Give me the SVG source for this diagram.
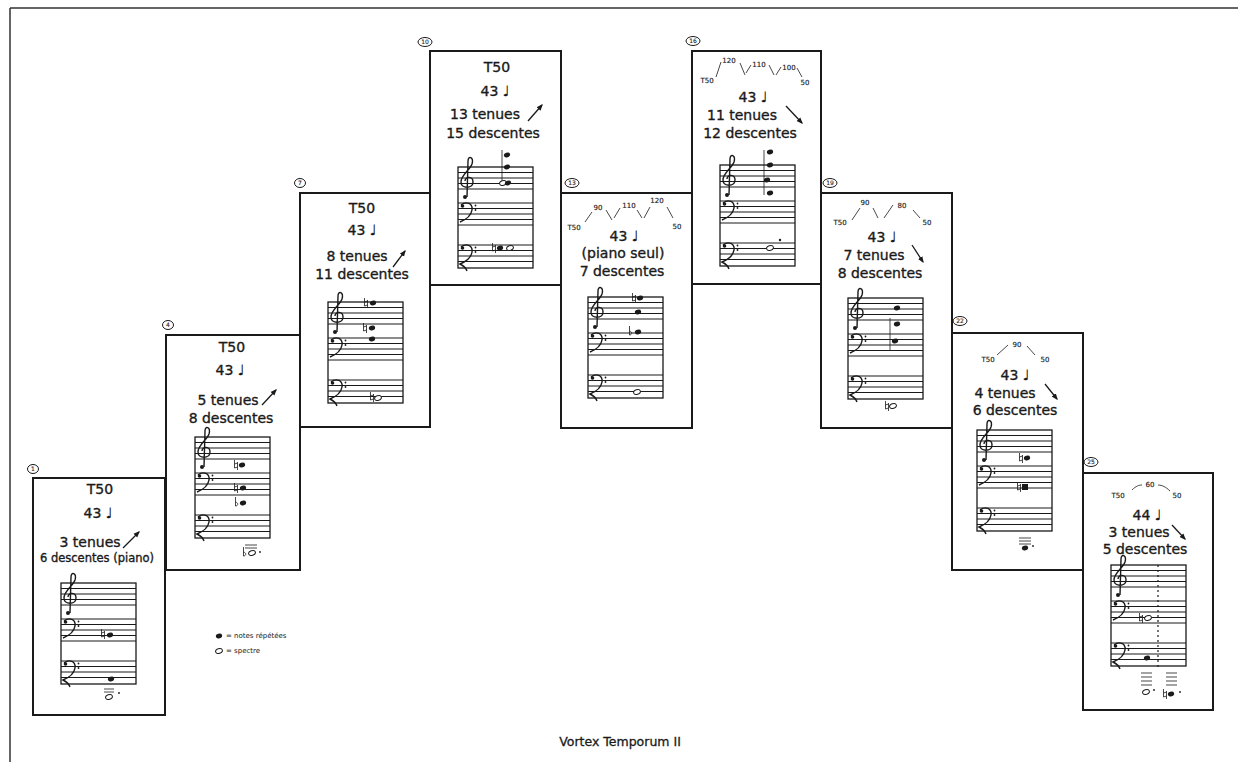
<svg xmlns="http://www.w3.org/2000/svg" xmlns:xlink="http://www.w3.org/1999/xlink" width="1238" height="770" viewBox="0 0 1238 770">
<style>
.box{fill:#fff;stroke:#1a1a1a;stroke-width:2}
.t{font-family:"DejaVu Sans","Liberation Sans",sans-serif;fill:#1a1a1a;text-anchor:middle;stroke:#1a1a1a;stroke-width:0.35}
.m{font-size:14px}
.s{font-size:11.5px}
.tp{font-size:7px;stroke-width:0.15}
.num{font-size:6px;stroke-width:0.1}
.ln{stroke:#1a1a1a;stroke-width:1.1;fill:none}
.sl{stroke:#1a1a1a;stroke-width:0.8;fill:none}
.arr{stroke:#1a1a1a;stroke-width:1.3;fill:none;marker-end:url(#ah)}
.nh{fill:#1a1a1a}
.ho{fill:#fff;stroke:#1a1a1a;stroke-width:1}
.cl{stroke:#1a1a1a;stroke-width:1.4;fill:none}
.lg{font-family:"DejaVu Sans","Liberation Sans",sans-serif;font-size:7px;fill:#1a1a1a}
</style>
<defs>
<marker id="ah" viewBox="0 0 10 10" refX="8" refY="5" markerWidth="5" markerHeight="5" orient="auto">
<path d="M0,1 L10,5 L0,9 Z" fill="#1a1a1a"/>
</marker>
<g id="staff">
<rect x="0" y="0" width="75" height="101" fill="#fff" stroke="#1a1a1a" stroke-width="1.3"/>
<path class="ln" d="M0,5.5H75M0,11H75M0,16.5H75M0,22H75M0,36H75M0,41.5H75M0,47H75M0,52.5H75M0,58H75M0,78H75M0,83.5H75M0,89H75M0,94.5H75"/>
<path class="cl" d="M9,30 L10,-6 C10,-12 16,-10 14,-3 C12,3 3,8 3,15 C3,22 15,22 15,15 C15,9 7,9 7,14"/>
<circle cx="7" cy="30" r="2" class="nh"/>
<path class="cl" d="M3,38 C8,34 15,36 14,43 C13,49 7,53 2,55"/>
<circle cx="4.5" cy="39" r="1.8" class="nh"/>
<circle cx="17.5" cy="38.5" r="0.9" class="nh"/>
<circle cx="17.5" cy="43" r="0.9" class="nh"/>
<path class="cl" d="M3,80 C8,76 15,78 14,85 C13,91 7,95 2,97 C6,99 8,101 9,104"/>
<circle cx="4.5" cy="81" r="1.8" class="nh"/>
<circle cx="17.5" cy="80.5" r="0.9" class="nh"/>
<circle cx="17.5" cy="85" r="0.9" class="nh"/>
</g>
<ellipse id="n" cx="0" cy="0" rx="3.2" ry="2.3" transform="rotate(-20)" class="nh"/>
<ellipse id="h" cx="0" cy="0" rx="3.5" ry="2.3" transform="rotate(-20)" class="ho"/>
<path id="nat" d="M-1.5,-5 V3 L1.5,2 M1.5,-3 V5 M-1.5,-1 L1.5,-2" class="sl"/>
<path id="flt" d="M-1.5,-6 V3 C1,3 2,0 -1.5,-1" class="sl"/>
</defs>

<g id="frame">
<path d="M10,8 H1238 M10,8 V762" stroke="#333" stroke-width="1.5" fill="none"/>
</g>

<g id="connectors"></g>

<g id="node1">
<rect class="box" x="33" y="478" width="132" height="237"/>
<ellipse cx="33" cy="469" rx="5.5" ry="4.5" class="ho"/><text class="t num" x="33" y="471">1</text>
<text class="t m" x="100" y="494">T50</text>
<text class="t m" x="98" y="518">43 ♩</text>
<text class="t m" x="90" y="547">3 tenues</text>
<path class="arr" d="M123,548 L139,532"/>
<text class="t s" x="97" y="562">6 descentes (piano)</text>
<use xlink:href="#staff" x="61" y="583"/>
<use xlink:href="#nat" x="103" y="634"/><use xlink:href="#n" x="110" y="635"/>
<use xlink:href="#n" x="111" y="679"/>
<path class="sl" d="M104,689H114M104,692H114"/>
<use xlink:href="#h" x="109" y="697"/><circle cx="119" cy="693" r="0.9" class="nh"/>
</g>

<g id="node4">
<rect class="box" x="166" y="335" width="134" height="235"/>
<ellipse cx="168" cy="325" rx="5.5" ry="4.5" class="ho"/><text class="t num" x="168" y="327">4</text>
<text class="t m" x="232" y="352">T50</text>
<text class="t m" x="230" y="375">43 ♩</text>
<text class="t m" x="228" y="405">5 tenues</text>
<path class="arr" d="M262,405 L276,390"/>
<text class="t m" x="231" y="423">8 descentes</text>
<use xlink:href="#staff" x="195" y="437"/>
<use xlink:href="#nat" x="236" y="465"/><use xlink:href="#n" x="242" y="465"/>
<use xlink:href="#nat" x="236" y="488"/><use xlink:href="#n" x="243" y="488"/>
<use xlink:href="#flt" x="237" y="503"/><use xlink:href="#n" x="243" y="503"/>
<path class="sl" d="M245,545H257M245,548H257"/>
<use xlink:href="#flt" x="245" y="553"/><use xlink:href="#h" x="252" y="553"/><circle cx="260" cy="552" r="0.9" class="nh"/>
</g>

<g id="node7">
<rect class="box" x="300" y="193" width="130" height="234"/>
<ellipse cx="300" cy="183" rx="5.5" ry="4.5" class="ho"/><text class="t num" x="300" y="185">7</text>
<text class="t m" x="362" y="213">T50</text>
<text class="t m" x="362" y="235">43 ♩</text>
<text class="t m" x="357" y="261">8 tenues</text>
<path class="arr" d="M393,267 L405,251"/>
<text class="t m" x="362" y="279">11 descentes</text>
<use xlink:href="#staff" x="328" y="302"/>
<use xlink:href="#nat" x="366" y="303"/><use xlink:href="#n" x="373" y="303"/>
<use xlink:href="#nat" x="365" y="328"/><use xlink:href="#n" x="372" y="328"/>
<use xlink:href="#n" x="372" y="339"/>
<use xlink:href="#nat" x="372" y="397"/><use xlink:href="#h" x="378" y="398"/>
</g>

<g id="node10">
<rect class="box" x="430" y="51" width="131" height="234"/>
<ellipse cx="425" cy="42" rx="7" ry="4.5" class="ho"/><text class="t num" x="425" y="44">10</text>
<text class="t m" x="497" y="72">T50</text>
<text class="t m" x="495" y="96">43 ♩</text>
<text class="t m" x="485" y="119">13 tenues</text>
<path class="arr" d="M528,121 L542,105"/>
<text class="t m" x="493" y="138">15 descentes</text>
<use xlink:href="#staff" x="458" y="167"/>
<path class="sl" d="M502,150V185"/>
<use xlink:href="#n" x="507" y="155"/>
<use xlink:href="#n" x="507" y="167"/>
<use xlink:href="#h" x="503" y="183"/><use xlink:href="#n" x="508" y="183"/>
<use xlink:href="#nat" x="494" y="248"/><use xlink:href="#n" x="500" y="248"/><use xlink:href="#h" x="510" y="248"/>
</g>

<g id="node13">
<rect class="box" x="561" y="193" width="131" height="235"/>
<ellipse cx="572" cy="183" rx="7" ry="4.5" class="ho"/><text class="t num" x="572" y="185">13</text>
<text class="t tp" x="574" y="230">T50</text>
<text class="t tp" x="598" y="210">90</text>
<text class="t tp" x="629" y="208">110</text>
<text class="t tp" x="657" y="203">120</text>
<text class="t tp" x="677" y="229">50</text>
<path class="sl" d="M585,222L592,212M606,210L612,220M614,218L620,208M637,210L642,218M644,218L650,207M667,207L673,218"/>
<text class="t m" x="624" y="241">43 ♩</text>
<text class="t m" x="623" y="258">(piano seul)</text>
<text class="t m" x="622" y="276">7 descentes</text>
<use xlink:href="#staff" x="588" y="297"/>
<use xlink:href="#nat" x="634" y="298"/><use xlink:href="#n" x="640" y="298"/>
<use xlink:href="#n" x="638" y="312"/>
<use xlink:href="#flt" x="631" y="332"/><use xlink:href="#n" x="638" y="332"/>
<use xlink:href="#h" x="637" y="392"/>
</g>

<g id="node16">
<rect class="box" x="692" y="51" width="129" height="233"/>
<ellipse cx="693" cy="41" rx="7" ry="4.5" class="ho"/><text class="t num" x="693" y="43">16</text>
<text class="t tp" x="707" y="83">T50</text>
<text class="t tp" x="729" y="63">120</text>
<text class="t tp" x="759" y="67">110</text>
<text class="t tp" x="789" y="70">100</text>
<text class="t tp" x="805" y="85">50</text>
<path class="sl" d="M716,77L721,62M740,63L745,75M746,73L751,65M769,65L774,75M776,75L781,67M797,68L802,77"/>
<text class="t m" x="753" y="102">43 ♩</text>
<text class="t m" x="742" y="120">11 tenues</text>
<path class="arr" d="M786,106 L802,123"/>
<text class="t m" x="750" y="138">12 descentes</text>
<use xlink:href="#staff" x="720" y="165"/>
<path class="sl" d="M764,150V195"/>
<use xlink:href="#n" x="770" y="152"/>
<use xlink:href="#n" x="770" y="165"/>
<use xlink:href="#n" x="767" y="180"/>
<use xlink:href="#n" x="770" y="193"/>
<use xlink:href="#h" x="770" y="248"/><circle cx="780" cy="240" r="1.2" class="nh"/>
</g>

<g id="node19">
<rect class="box" x="821" y="193" width="131" height="235"/>
<ellipse cx="830" cy="183" rx="7" ry="4.5" class="ho"/><text class="t num" x="830" y="185">19</text>
<text class="t tp" x="840" y="225">T50</text>
<text class="t tp" x="865" y="205">90</text>
<text class="t tp" x="902" y="208">80</text>
<text class="t tp" x="927" y="225">50</text>
<path class="sl" d="M852,220L860,208M873,208L878,218M884,218L893,205M913,210L920,218"/>
<text class="t m" x="882" y="242">43 ♩</text>
<text class="t m" x="874" y="260">7 tenues</text>
<path class="arr" d="M912,245 L923,262"/>
<text class="t m" x="880" y="278">8 descentes</text>
<use xlink:href="#staff" x="848" y="298"/>
<path class="sl" d="M890,318V350"/>
<use xlink:href="#n" x="897" y="308"/>
<use xlink:href="#n" x="897" y="324"/>
<use xlink:href="#n" x="895" y="341"/>
<use xlink:href="#nat" x="887" y="406"/><use xlink:href="#h" x="893" y="406"/>
</g>

<g id="node22">
<rect class="box" x="952" y="333" width="131" height="237"/>
<ellipse cx="960" cy="321" rx="7" ry="4.5" class="ho"/><text class="t num" x="960" y="323">22</text>
<text class="t tp" x="988" y="362">T50</text>
<text class="t tp" x="1017" y="347">90</text>
<text class="t tp" x="1045" y="362">50</text>
<path class="sl" d="M997,355L1008,345M1027,346L1035,355"/>
<text class="t m" x="1015" y="380">43 ♩</text>
<text class="t m" x="1005" y="398">4 tenues</text>
<path class="arr" d="M1045,384 L1057,399"/>
<text class="t m" x="1015" y="415">6 descentes</text>
<use xlink:href="#staff" x="977" y="430"/>
<use xlink:href="#nat" x="1021" y="458"/><use xlink:href="#n" x="1027" y="458"/>
<use xlink:href="#nat" x="1019" y="487"/><rect x="1022" y="484" width="6" height="6" class="nh"/>
<path class="sl" d="M1019,538H1031M1019,541H1031M1019,544H1031"/>
<use xlink:href="#n" x="1025" y="548"/><circle cx="1033" cy="546" r="0.9" class="nh"/>
</g>

<g id="node25">
<rect class="box" x="1083" y="473" width="130" height="237"/>
<ellipse cx="1091" cy="462" rx="7" ry="4.5" class="ho"/><text class="t num" x="1091" y="464">25</text>
<text class="t tp" x="1118" y="498">T50</text>
<text class="t tp" x="1150" y="487">60</text>
<text class="t tp" x="1177" y="498">50</text>
<path class="sl" d="M1132,490C1136,486 1139,485 1142,485M1158,485C1162,485 1166,487 1170,491"/>
<text class="t m" x="1147" y="520">44 ♩</text>
<text class="t m" x="1139" y="537">3 tenues</text>
<path class="arr" d="M1172,525 L1185,539"/>
<text class="t m" x="1145" y="554">5 descentes</text>
<use xlink:href="#staff" x="1111" y="565"/>
<path d="M1158,565V668" stroke="#1a1a1a" stroke-width="1.2" stroke-dasharray="2,3"/>
<use xlink:href="#nat" x="1141" y="618"/><use xlink:href="#h" x="1148" y="618"/>
<use xlink:href="#n" x="1147" y="658"/>
<path class="sl" d="M1141,673H1152M1141,677H1152M1141,681H1152M1141,685H1152M1166,673H1177M1166,677H1177M1166,681H1177M1166,685H1177"/>
<use xlink:href="#h" x="1146" y="692"/><circle cx="1154" cy="690" r="0.9" class="nh"/>
<use xlink:href="#nat" x="1165" y="694"/><use xlink:href="#n" x="1171" y="694"/><circle cx="1180" cy="692" r="0.9" class="nh"/>
</g>

<g id="legend">
<use xlink:href="#n" x="219" y="636"/>
<text class="lg" x="226" y="638">= notes répétées</text>
<use xlink:href="#h" x="219" y="651"/>
<text class="lg" x="226" y="653">= spectre</text>
</g>

<text x="620" y="746" font-family="DejaVu Sans, Liberation Sans, sans-serif" font-size="12.5" fill="#1a1a1a" stroke="#1a1a1a" stroke-width="0.3" text-anchor="middle">Vortex Temporum II</text>
</svg>
